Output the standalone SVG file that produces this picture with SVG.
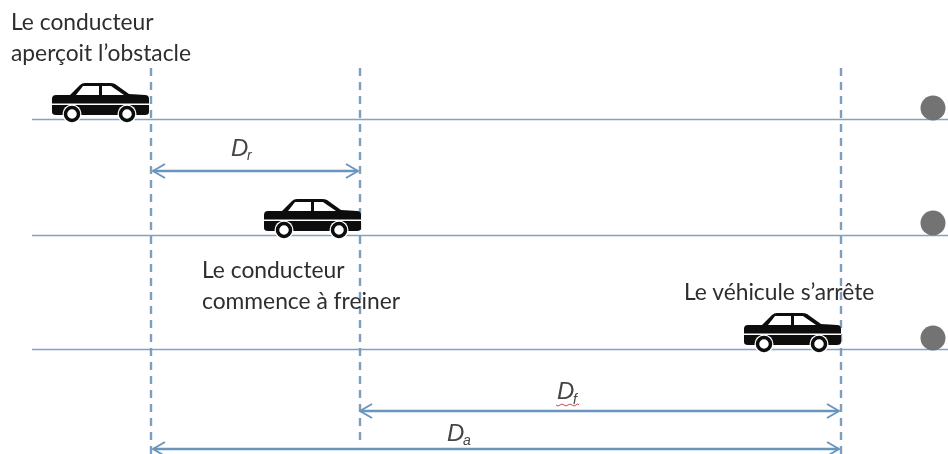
<svg xmlns="http://www.w3.org/2000/svg" width="948" height="454" viewBox="0 0 948 454">
<style>
text{font-family:Lato,"Noto Sans","Liberation Sans",sans-serif;font-size:22.800px;fill:#2e2e2e}
text.d{font-family:"Liberation Sans",Arial,sans-serif;font-style:italic;font-size:24px;fill:#444}
text.s{font-family:"Liberation Sans",Arial,sans-serif;font-style:italic;font-size:14px;fill:#444}
.road{stroke:#7fa3c2;stroke-width:1.700;fill:none}
.dash{stroke:#7d9fbd;stroke-width:2.400;stroke-dasharray:8 6;fill:none}
.arrow{stroke:#6a96bd;stroke-width:2.400;fill:none;marker-start:url(#a);marker-end:url(#a)}
.ball{fill:#737373}
</style>
<defs>
<filter id="soft" x="0" y="0" width="100%" height="100%"><feGaussianBlur stdDeviation="0.5"/></filter>
<marker id="a" viewBox="0 0 14 16" refX="13" refY="8" markerWidth="14" markerHeight="16" markerUnits="userSpaceOnUse" orient="auto-start-reverse">
<path d="M1 1L13 8L1 15" fill="none" stroke="#6a96bd" stroke-width="2"/>
</marker>
<g id="car">
<path fill="#0a0a0a" d="M0 17Q0 13 4 13L18 13L28 3Q30 1 33 1L58 1Q61 1 63 2L77 12L93 13Q97 13 97 17L97 30Q97 33 93 33L4 33Q0 33 0 30Z"/>
<path fill="#fff" d="M31 4L47 4L47 13L24 13Z"/>
<path fill="#fff" d="M50 4L59 4L72 13L50 13Z"/>
<path fill="#fff" d="M0 21.500L97 21.500L97 23L0 23Z"/>
<circle cx="20" cy="32" r="9.500" fill="#fff"/><circle cx="20" cy="32" r="6.500" fill="none" stroke="#0a0a0a" stroke-width="3.500"/>
<circle cx="75" cy="32" r="9.500" fill="#fff"/><circle cx="75" cy="32" r="6.500" fill="none" stroke="#0a0a0a" stroke-width="3.500"/>
</g>
</defs>
<rect width="948" height="454" fill="#fff"/>
<g filter="url(#soft)">
<g id="connectors">
<path class="road" d="M32 119.500H948M32 235.500H948M32 349.500H948"/>
<path class="dash" d="M151 68V454"/>
<path class="dash" d="M360 68V440"/>
<path class="dash" d="M841 68V454"/>
<path class="arrow" d="M153 171H358"/>
<path class="arrow" d="M360 411H839"/>
<path class="arrow" d="M153 449H839"/>
</g>
<g id="car-1"><use href="#car" x="52" y="82"/></g>
<g id="car-2"><use href="#car" x="264" y="198"/></g>
<g id="car-3"><use href="#car" x="744" y="312"/></g>
<g id="obstacle-1"><circle class="ball" cx="933" cy="108" r="12.500"/></g>
<g id="obstacle-2"><circle class="ball" cx="933" cy="223" r="12.500"/></g>
<g id="obstacle-3"><circle class="ball" cx="933" cy="338" r="12.500"/></g>
<g id="label-1"><text x="11" y="30">Le conducteur</text><text x="11" y="61">aperçoit l’obstacle</text></g>
<g id="label-2"><text x="202" y="278">Le conducteur</text><text x="202" y="309">commence à freiner</text></g>
<g id="label-3"><text x="684" y="300">Le véhicule s’arrête</text></g>
<g id="label-dr"><text class="d" x="231" y="156">D</text><text class="s" x="247" y="160">r</text></g>
<g id="label-df"><text class="d" x="557" y="399">D</text><text class="s" x="573" y="404">f</text><path d="M556 405q2 2 4 0t4 0t4 0t4 0t4 0t3 0" fill="none" stroke="#c0504d" stroke-width="1"/></g>
<g id="label-da"><text class="d" x="447" y="441">D</text><text class="s" x="463" y="445">a</text></g>
</g>
</svg>
